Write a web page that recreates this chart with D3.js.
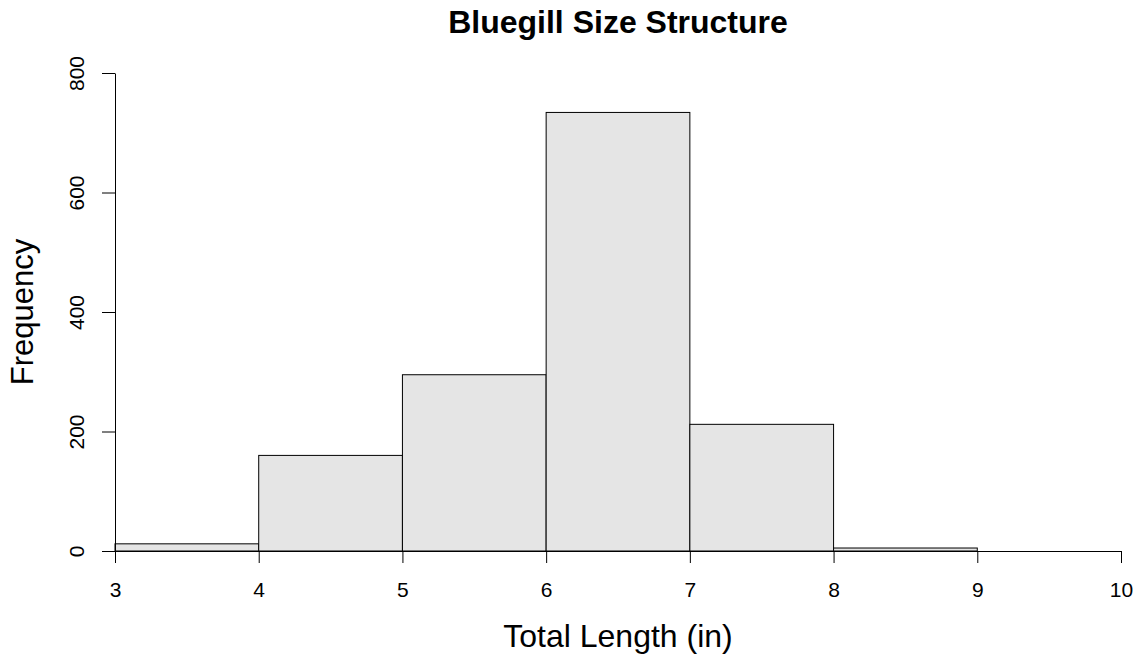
<!DOCTYPE html>
<html>
<head>
<meta charset="utf-8">
<script src="https://cdn.jsdelivr.net/npm/d3@7"></script>
<style>
  body { margin: 0; background: #fff; }
  text { font-family: "Liberation Sans", Arial, sans-serif; }
</style>
</head>
<body>
<svg width="1138" height="658"></svg>
<script>
// histogram bins (inches) and counts
var binStarts = [3, 4, 5, 6, 7, 8, 9];
var binEnds = [4, 5, 6, 7, 8, 9, 10];
var counts = [12, 160, 295, 734, 212, 5, 0];
var xTicks = [3, 4, 5, 6, 7, 8, 9, 10];
var yTicks = [0, 200, 400, 600, 800];

var svg = d3.select("svg"),
    margin = {top: 73, right: 17, bottom: 107, left: 115},
    width = +svg.attr("width") - margin.left - margin.right,
    height = +svg.attr("height") - margin.top - margin.bottom,
    g = svg.append("g").attr("transform", "translate(" + margin.left + "," + margin.top + ")");

var x = d3.scaleLinear().domain([3, 10]).range([0, width]);
var y = d3.scaleLinear().domain([0, 800]).range([height, 0]);

var bins = binStarts.map(function(d, i) { return {x0: d, x1: binEnds[i], n: counts[i]}; });

// bars
g.selectAll("rect.bar")
  .data(bins.filter(function(d) { return d.n > 0; }))
  .enter().append("rect")
    .attr("class", "bar")
    .attr("x", function(d) { return x(d.x0); })
    .attr("y", function(d) { return y(d.n); })
    .attr("width", function(d) { return x(d.x1) - x(d.x0); })
    .attr("height", function(d) { return height - y(d.n); })
    .attr("fill", "#e5e5e5")
    .attr("stroke", "#000")
    .attr("stroke-width", 1);

// x axis
var xAxis = g.append("g")
  .attr("transform", "translate(0," + height + ")")
  .call(d3.axisBottom(x).tickValues(xTicks).tickFormat(d3.format("d")).tickSize(12).tickSizeOuter(0));
xAxis.select(".domain").attr("stroke", "#000");
xAxis.selectAll(".tick line").attr("stroke", "#000");
xAxis.selectAll(".tick text")
  .style("font-size", "21px")
  .attr("fill", "#000")
  .attr("dy", null)
  .attr("y", 46);

// y axis
var yAxis = g.append("g")
  .call(d3.axisLeft(y).tickValues(yTicks).tickSize(13).tickSizeOuter(0));
yAxis.select(".domain").attr("stroke", "#000");
yAxis.selectAll(".tick line").attr("stroke", "#000");
yAxis.selectAll(".tick text")
  .style("font-size", "21px")
  .attr("fill", "#000")
  .attr("x", null)
  .attr("dy", null)
  .attr("text-anchor", "middle")
  .attr("transform", "translate(-31,0) rotate(-90)");

// title
svg.append("text")
  .attr("x", margin.left + width / 2)
  .attr("y", 33)
  .attr("text-anchor", "middle")
  .style("font-size", "32px")
  .attr("font-weight", "bold")
  .text("Bluegill Size Structure");

// axis labels
svg.append("text")
  .attr("x", margin.left + width / 2)
  .attr("y", 647)
  .attr("text-anchor", "middle")
  .style("font-size", "32px")
  .text("Total Length (in)");

svg.append("text")
  .attr("transform", "translate(33," + (margin.top + height / 2) + ") rotate(-90)")
  .attr("text-anchor", "middle")
  .style("font-size", "31px")
  .text("Frequency");
</script>
</body>
</html>
